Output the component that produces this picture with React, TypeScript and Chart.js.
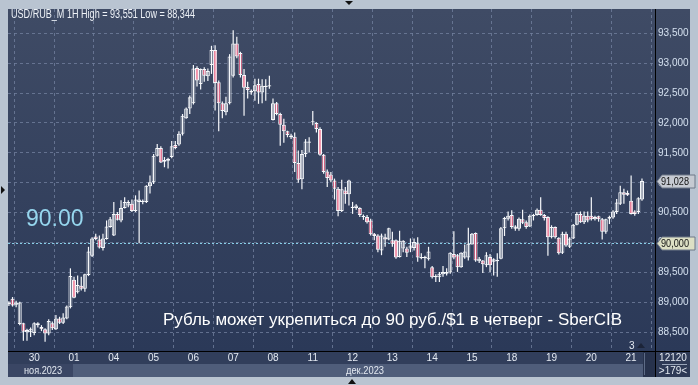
import React, { useEffect, useRef } from 'react';
import { Chart, registerables } from 'chart.js';

Chart.register(...registerables);

// ---- data (hourly candles, USD/RUB) ----
const opens = [
  88.97, 89.06, 88.96, 88.64, 88.65, 88.50, 88.50, 88.49, 88.62, 88.59, 88.55, 88.48, 88.65, 88.55, 88.73, 88.66, 88.73, 88.92,
  89.38, 89.17, 89.28, 89.23, 89.46, 89.78, 90.10, 90.05, 89.91, 90.06, 90.26,
  90.12, 90.48, 90.37, 90.58, 90.62, 90.65, 90.53, 90.68, 90.68, 90.68, 90.94,
  91.01, 91.45, 91.58, 91.35, 91.37, 91.43, 91.63, 91.64, 91.82, 92.08, 92.24,
  92.33, 92.92, 92.65, 92.90, 92.78, 92.97, 93.22, 92.68, 92.33, 92.18, 92.33,
  92.79, 93.33, 93.17, 92.80, 92.60, 92.54, 92.53, 92.65, 92.51, 92.60, 92.61,
  92.05, 92.33, 92.15, 91.97, 91.86, 91.76, 91.77, 91.33, 91.06, 91.48, 91.69,
  92.01, 92.00, 91.90, 91.47, 91.19, 91.14, 91.04, 90.90, 90.53, 90.87, 90.81,
  90.58, 90.58, 90.58, 90.43, 90.43, 90.37, 90.15, 90.12, 89.87, 90.09, 90.05,
  90.04, 90.04, 89.76, 89.90, 89.90, 89.90, 89.91, 89.99, 89.74, 89.76, 89.72,
  89.59, 89.42, 89.42, 89.47, 89.48, 89.50, 89.81, 89.79, 89.59, 89.75, 89.75,
  89.97, 90.16, 89.69, 89.70, 89.62, 89.76, 89.68, 89.69, 89.73, 90.24, 90.40,
  90.46, 90.23, 90.23, 90.39, 90.34, 90.27, 90.44, 90.46, 90.55, 90.46, 90.43,
  90.09, 90.26, 90.08, 89.83, 90.15, 89.93, 90.07, 90.30, 90.48, 90.34, 90.45,
  90.45, 90.39, 90.44, 90.39, 90.18, 90.40, 90.42, 90.51, 90.65, 90.84, 90.83,
  90.70, 90.52, 90.51, 90.72,
];
const highs = [
  89.02, 89.09, 89.03, 89.01, 88.66, 88.56, 88.58, 88.67, 88.67, 88.62, 88.57, 88.72, 88.68, 88.79, 88.76, 88.82, 88.95, 89.57,
  89.43, 89.45, 89.43, 89.48, 89.93, 90.09, 90.15, 90.12, 90.15, 90.37, 90.43,
  90.68, 90.51, 90.71, 90.76, 90.71, 90.72, 90.79, 90.87, 90.72, 90.96, 91.12,
  91.48, 91.65, 91.61, 91.43, 91.42, 91.70, 91.70, 91.86, 92.15, 92.26, 92.46,
  92.97, 92.95, 92.91, 92.93, 92.91, 93.29, 93.30, 92.71, 92.36, 92.44, 93.15,
  93.551, 93.44, 93.19, 92.90, 92.69, 92.56, 92.74, 92.74, 92.73, 92.73, 92.79,
  92.41, 92.35, 92.17, 92.07, 91.87, 91.82, 91.84, 91.54, 91.55, 91.73, 91.76,
  92.20, 92.01, 91.93, 91.48, 91.22, 91.18, 91.07, 90.93, 91.05, 90.93, 91.05,
  90.68, 90.64, 90.59, 90.47, 90.46, 90.40, 90.16, 90.14, 90.15, 90.15, 90.25,
  90.18, 90.05, 90.20, 90.04, 89.93, 90.07, 90.07, 90.09, 89.82, 89.78, 89.93,
  89.61, 89.47, 89.51, 89.61, 89.57, 89.84, 90.19, 89.81, 89.84, 89.97, 90.25,
  90.16, 90.17, 89.76, 89.71, 89.84, 89.81, 89.74, 89.82, 90.26, 90.43, 90.52,
  90.54, 90.29, 90.42, 90.55, 90.37, 90.47, 90.48, 90.57, 90.76, 90.48, 90.44,
  90.29, 90.27, 90.09, 90.18, 90.18, 90.09, 90.31, 90.51, 90.52, 90.52, 90.52,
  90.76, 90.45, 90.45, 90.41, 90.40, 90.45, 90.54, 90.73, 90.95, 90.90, 90.87,
  91.12, 90.54, 90.76, 91.07,
];
const lows = [
  88.94, 88.93, 88.92, 88.62, 88.36, 88.36, 88.42, 88.45, 88.58, 88.52, 88.344, 88.45, 88.54, 88.54, 88.64, 88.64, 88.72, 88.90,
  89.07, 89.15, 89.20, 89.18, 89.44, 89.76, 90.04, 89.90, 89.87, 90.05, 90.25,
  90.11, 90.37, 90.34, 90.57, 90.59, 90.51, 90.51, 89.99, 90.64, 90.66, 90.82,
  90.98, 91.44, 91.33, 91.26, 91.24, 91.41, 91.56, 91.62, 91.79, 92.07, 92.15,
  92.31, 92.61, 92.56, 92.69, 92.70, 92.82, 92.21, 91.86, 92.08, 92.13, 92.31,
  92.76, 93.08, 92.76, 92.12, 92.41, 92.47, 92.37, 92.32, 92.33, 92.37, 92.57,
  92.04, 92.13, 91.62, 91.67, 91.76, 91.73, 91.18, 91.00, 90.89, 91.43, 91.51,
  91.96, 91.84, 91.45, 91.15, 90.93, 91.01, 90.72, 90.44, 90.51, 90.65, 90.62,
  90.48, 90.55, 90.43, 90.38, 90.32, 90.12, 90.04, 89.84, 89.79, 89.93, 90.04,
  89.93, 89.73, 89.75, 89.84, 89.76, 89.84, 89.87, 89.68, 89.72, 89.57, 89.70,
  89.40, 89.34, 89.34, 89.43, 89.45, 89.48, 89.72, 89.51, 89.58, 89.73, 89.70,
  89.97, 89.68, 89.66, 89.49, 89.59, 89.51, 89.45, 89.43, 89.72, 90.11, 90.37,
  90.23, 90.20, 90.20, 90.31, 90.23, 90.26, 90.37, 90.45, 90.45, 90.37, 89.78,
  90.07, 90.07, 89.80, 89.81, 89.93, 89.91, 90.06, 90.29, 90.33, 90.31, 90.34,
  90.37, 90.37, 90.35, 90.05, 90.15, 90.31, 90.40, 90.48, 90.63, 90.65, 90.78,
  90.47, 90.45, 90.48, 90.70,
];
const closes = [
  89.00, 88.95, 89.00, 89.00, 88.51, 88.54, 88.56, 88.65, 88.65, 88.55, 88.48, 88.69, 88.57, 88.73, 88.66, 88.75, 88.93, 89.44,
  89.08, 89.29, 89.23, 89.47, 89.85, 90.07, 90.06, 89.92, 90.07, 90.27, 90.39,
  90.48, 90.38, 90.58, 90.68, 90.68, 90.53, 90.72, 90.72, 90.70, 90.95, 91.01,
  91.45, 91.58, 91.34, 91.38, 91.40, 91.61, 91.58, 91.82, 92.12, 92.24, 92.43,
  92.91, 92.71, 92.90, 92.79, 92.87, 93.22, 92.67, 92.33, 92.20, 92.33, 93.11,
  93.33, 93.11, 92.80, 92.59, 92.55, 92.51, 92.63, 92.51, 92.62, 92.62, 92.63,
  92.33, 92.15, 91.97, 91.86, 91.80, 91.79, 91.33, 91.05, 91.48, 91.69, 91.67,
  92.03, 91.90, 91.47, 91.18, 91.08, 91.04, 90.90, 90.53, 90.89, 90.81, 91.04,
  90.60, 90.62, 90.46, 90.45, 90.34, 90.14, 90.11, 89.88, 90.12, 90.05, 90.24,
  89.98, 89.75, 90.03, 90.03, 89.83, 89.95, 90.01, 89.75, 89.76, 89.74, 89.85,
  89.42, 89.44, 89.48, 89.51, 89.51, 89.83, 89.75, 89.59, 89.83, 89.85, 89.98,
  90.15, 89.70, 89.73, 89.64, 89.79, 89.62, 89.72, 89.71, 90.24, 90.41, 90.45,
  90.26, 90.27, 90.40, 90.33, 90.26, 90.45, 90.46, 90.55, 90.46, 90.41, 90.09,
  90.26, 90.09, 89.82, 90.15, 89.95, 90.07, 90.30, 90.48, 90.34, 90.45, 90.37,
  90.39, 90.43, 90.39, 90.18, 90.39, 90.43, 90.52, 90.67, 90.84, 90.80, 90.79,
  90.48, 90.48, 90.74, 91.028,
];
const dayLabels = ['30', '01', '04', '05', '06', '07', '08', '11', '12', '13', '14', '15', '18', '19', '20', '21'];
const dayStartIndex = [7, 18, 29, 40, 51, 62, 73, 84, 95, 106, 117, 128, 139, 150, 161, 172];
const monthLabels = ['ноя.2023', 'дек.2023'];
const yTickValues = [88.5, 89, 89.5, 90, 90.5, 91, 91.5, 92, 92.5, 93, 93.5];
const titleText = 'USD/RUB_M 1H High = 93,551 Low = 88,344';
const levelValue = 90.0;
const levelText = '90.00';
const lastPrice = 91.028;
const headline = 'Рубль может укрепиться до 90 руб./$1 в четверг - SberCIB';
const footerCount = '12120';
const footerZoom = '>179<';
const barsMarker = '3';

const FONT = '"Liberation Sans", Arial, sans-serif';
const RED = '#f0083c';
const WHITE = '#f6f8fb';

function fmt(v: number) {
  return v.toFixed(3).replace('.', ',');
}

function plotGradient(chart: any) {
  const a = chart.chartArea;
  const top = a ? a.top : 8;
  const bottom = a ? a.bottom : 351;
  const key = top + '-' + bottom;
  if (chart.$grad && chart.$gradKey === key) return chart.$grad;
  const g = chart.ctx.createLinearGradient(0, top, 0, bottom);
  g.addColorStop(0, '#3f4b65');
  g.addColorStop(1, '#2b3958');
  chart.$grad = g;
  chart.$gradKey = key;
  return g;
}

function tri(ctx: CanvasRenderingContext2D, pts: number[][]) {
  ctx.beginPath();
  ctx.moveTo(pts[0][0], pts[0][1]);
  for (let i = 1; i < pts.length; i++) ctx.lineTo(pts[i][0], pts[i][1]);
  ctx.closePath();
  ctx.fill();
}

const backdrop = {
  id: 'backdrop',
  beforeDraw(chart: any) {
    const { ctx, chartArea: a } = chart;
    const xs = chart.scales.x;
    const W = chart.width;
    const H = chart.height;
    const panelRight = a.right + 35;
    ctx.save();
    ctx.fillStyle = '#b9c4d1';
    ctx.fillRect(0, 0, W, H);
    ctx.fillStyle = plotGradient(chart);
    ctx.fillRect(a.left, a.top, panelRight - a.left, a.bottom - a.top);
    // x-axis rows
    ctx.fillStyle = '#313e5b';
    ctx.fillRect(a.left, a.bottom, panelRight - a.left, 13);
    const decStart = Math.round(xs.getPixelForValue(dayStartIndex[1])) - 1;
    const scrollX = a.right - 12;
    ctx.fillStyle = '#3a4664';
    ctx.fillRect(a.left, a.bottom + 13, decStart - a.left, 13);
    ctx.fillStyle = '#4f5d7a';
    ctx.fillRect(decStart, a.bottom + 13, scrollX - decStart, 13);
    ctx.fillStyle = '#27324c';
    ctx.fillRect(scrollX, a.bottom, 12, 26);
    ctx.fillStyle = '#5d6b86';
    ctx.fillRect(scrollX + 1, a.bottom + 2, 1, 22);
    ctx.fillStyle = '#2e3a56';
    ctx.fillRect(a.right, a.bottom, 35, 26);
    // frame markers
    ctx.fillStyle = '#111';
    tri(ctx, [[345, 1], [353, 1], [349, 5]]);
    tri(ctx, [[1, 186], [1, 194], [5, 190]]);
    tri(ctx, [[348, 384], [356, 384], [352, 379]]);
    ctx.restore();
  },
  beforeDatasetsDraw(chart: any) {
    const { ctx, chartArea: a } = chart;
    const y = Math.round(chart.scales.y.getPixelForValue(levelValue)) + 0.5;
    ctx.save();
    ctx.strokeStyle = '#86cde6';
    ctx.lineWidth = 1;
    ctx.setLineDash([2, 2]);
    ctx.beginPath();
    ctx.moveTo(a.left, y);
    ctx.lineTo(a.right, y);
    ctx.stroke();
    ctx.restore();
  },
  afterDraw(chart: any) {
    const { ctx, chartArea: a } = chart;
    const ys = chart.scales.y;
    const xs = chart.scales.x;
    const panelRight = a.right + 35;
    ctx.save();
    // black separators
    ctx.fillStyle = '#000';
    ctx.fillRect(a.right, a.top, 1, a.bottom + 26 - a.top);
    ctx.fillRect(a.left, a.bottom, panelRight - a.left, 1);
    ctx.textBaseline = 'middle';
    // title
    ctx.fillStyle = '#eef2f7';
    ctx.font = '12px ' + FONT;
    ctx.textAlign = 'left';
    ctx.fillText(titleText, 11, 15, 184);
    // big level text
    ctx.fillStyle = '#96d6ee';
    ctx.font = '23px ' + FONT;
    ctx.fillText(levelText, 26, 220, 58);
    // headline
    ctx.fillStyle = '#ffffff';
    ctx.font = '17px ' + FONT;
    ctx.fillText(headline, 163, 320, 459);
    // month row
    ctx.fillStyle = '#e3e9f1';
    ctx.font = '10px ' + FONT;
    ctx.fillText(monthLabels[0], 24, a.bottom + 20, 38);
    ctx.fillText(monthLabels[1], 346, a.bottom + 20, 38);
    // bar marker
    ctx.fillText(barsMarker, Math.round(xs.getPixelForValue(dayStartIndex[15])) - 2, a.bottom - 5);
    ctx.fillStyle = '#1c2438';
    tri(ctx, [[637, a.bottom - 3], [645, a.bottom - 3], [641, a.bottom - 8]]);
    // footer cell
    ctx.fillStyle = '#e3e9f1';
    ctx.textAlign = 'center';
    ctx.fillText(footerCount, a.right + 18, a.bottom + 7);
    ctx.fillText(footerZoom, a.right + 18, a.bottom + 20);
    ctx.fillStyle = '#9aa6ba';
    ctx.fillRect(a.right + 7, a.bottom + 13, 25, 1);
    // price tags
    const tag = (v: number, fill: string) => {
      const y = Math.round(ys.getPixelForValue(v)) + 0.5;
      const x0 = a.right + 2;
      const x1 = a.right + 40;
      const h = 13;
      ctx.beginPath();
      ctx.moveTo(x0, y);
      ctx.lineTo(x0 + 5, y - h / 2);
      ctx.lineTo(x1, y - h / 2);
      ctx.lineTo(x1, y + h / 2);
      ctx.lineTo(x0 + 5, y + h / 2);
      ctx.closePath();
      ctx.fillStyle = fill;
      ctx.fill();
      ctx.strokeStyle = '#6f7888';
      ctx.lineWidth = 1;
      ctx.stroke();
      ctx.fillStyle = '#121212';
      ctx.textAlign = 'left';
      ctx.font = '10px ' + FONT;
      ctx.fillText(fmt(v), x0 + 4, y + 0.5, 28);
    };
    tag(lastPrice, '#c6cad2');
    tag(levelValue, '#dde0c5');
    ctx.restore();
  },
};

export default function App() {
  const ref = useRef<HTMLCanvasElement | null>(null);
  useEffect(() => {
    document.body.style.margin = '0';
    const canvas = ref.current;
    if (!canvas) return;
    const idx = opens.map((_, i) => i);
    const wickData = idx.map((i) => ({ x: i, y: [lows[i], highs[i]] }));
    const bodyData = idx.map((i) => ({ x: i, y: [Math.min(opens[i], closes[i]), Math.max(opens[i], closes[i])] }));
    const chart = new Chart(canvas, {
      type: 'bar',
      data: {
        datasets: [
          {
            data: wickData as any,
            backgroundColor: WHITE,
            borderWidth: 0,
            barThickness: 1.2,
            inflateAmount: 0,
            grouped: false,
          } as any,
          {
            data: bodyData as any,
            backgroundColor: (c: any) => (closes[c.dataIndex] < opens[c.dataIndex] ? RED : plotGradient(c.chart)),
            borderColor: WHITE,
            borderWidth: 1,
            borderSkipped: false,
            barThickness: 4,
            inflateAmount: 0,
            grouped: false,
          } as any,
        ],
      },
      options: {
        animation: false,
        responsive: false,
        devicePixelRatio: 1,
        events: [],
        layout: { padding: { left: 8, top: 8, right: 8, bottom: 8 } },
        plugins: { legend: { display: false }, tooltip: { enabled: false }, title: { display: false } },
        scales: {
          x: {
            type: 'linear',
            min: -0.25,
            max: 178.6,
            offset: false,
            afterFit: (s: any) => {
              s.height = 26;
            },
            afterBuildTicks: (s: any) => {
              s.ticks = dayStartIndex.map((v) => ({ value: v }));
            },
            ticks: {
              autoSkip: false,
              maxRotation: 0,
              padding: 1,
              color: '#e3e9f1',
              font: { family: FONT, size: 10 },
              callback: (v: any) => {
                const k = dayStartIndex.indexOf(Number(v));
                return k >= 0 ? dayLabels[k] : '';
              },
            },
            grid: { color: 'rgba(112,126,156,0.8)', drawTicks: false, lineWidth: 1 },
            border: { display: false, dash: [3, 3] },
          },
          y: {
            type: 'linear',
            position: 'right',
            min: 88.188,
            max: 93.905,
            afterFit: (s: any) => {
              s.width = 35;
            },
            afterBuildTicks: (s: any) => {
              s.ticks = yTickValues.map((v) => ({ value: v }));
            },
            ticks: {
              padding: 3,
              color: '#d4e0ef',
              font: { family: FONT, size: 10 },
              callback: (v: any) => fmt(Number(v)),
            },
            grid: { color: 'rgba(112,126,156,0.8)', drawTicks: false, lineWidth: 1 },
            border: { display: false, dash: [3, 3] },
          },
        },
      } as any,
      plugins: [backdrop],
    });
    return () => chart.destroy();
  }, []);
  return <canvas ref={ref} width={698} height={385} style={{ display: 'block' }} />;
}
